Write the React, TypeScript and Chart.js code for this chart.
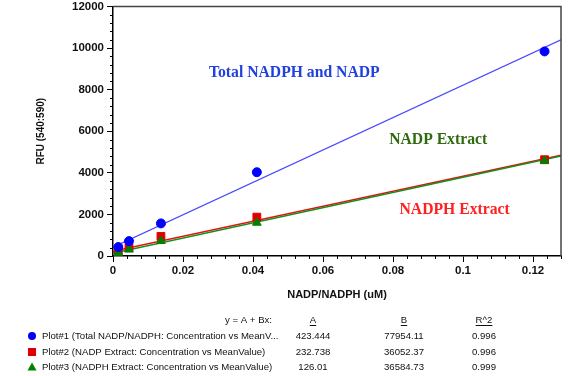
import React, { useEffect, useRef } from "react";
import { Chart, registerables } from "chart.js";

Chart.register(...registerables);

// ---- data ----
const concentrations = [0.00152, 0.00457, 0.0137, 0.0411, 0.1233];
const totalValues = [430, 716, 1567, 4030, 9840];
const nadpValues = [235, 400, 940, 1870, 4630];
const nadphValues = [150, 310, 720, 1600, 4580];

const fitA = [423.444, 232.738, 126.01];
const fitB = [77954.11, 36052.37, 36584.73];
const fitR2 = ["0.996", "0.996", "0.999"];
const fitAText = ["423.444", "232.738", "126.01"];
const fitBText = ["77954.11", "36052.37", "36584.73"];
const plotNames = [
  "Plot#1 (Total NADP/NADPH: Concentration vs MeanV...",
  "Plot#2 (NADP Extract: Concentration vs MeanValue)",
  "Plot#3 (NADPH Extract: Concentration vs MeanValue)",
];
const annotationLabels = ["Total NADPH and NADP", "NADP Extract", "NADPH Extract"];
const annotationPos = [
  { x: 0.0518, y: 8800 },
  { x: 0.0929, y: 5600 },
  { x: 0.0976, y: 2200 },
];

const xMajorTicks = [0, 0.02, 0.04, 0.06, 0.08, 0.1, 0.12];
const xMinorStep = 0.004;
const yMajorStep = 2000;
const yMinorStep = 400;
const xMax = 0.128;
const yMax = 12000;

const seriesColors = ["#0000ff", "#e00000", "#008000"];
const lineColors = ["#4a4aff", "#e81010", "#12901a"];
const textColors = ["#2040e0", "#2e6b10", "#ff2020"];

export default function App() {
  const ref = useRef<HTMLCanvasElement | null>(null);

  useEffect(() => {
    if (!ref.current) return;
    const pts = (vals: number[]) => concentrations.map((c, i) => ({ x: c, y: vals[i] }));
    const fitLine = (k: number) => [
      { x: 0, y: fitA[k] },
      { x: xMax, y: fitA[k] + fitB[k] * xMax },
    ];

    const extras = {
      id: "extras",
      afterDraw(chart: any) {
        const ctx = chart.ctx as CanvasRenderingContext2D;
        const xs = chart.scales.x;
        const ys = chart.scales.y;
        const ca = chart.chartArea;
        ctx.save();
        // frame top/right
        ctx.strokeStyle = "#444";
        ctx.lineWidth = 1.5;
        ctx.beginPath();
        ctx.moveTo(ca.left, ca.top);
        ctx.lineTo(ca.right, ca.top);
        ctx.lineTo(ca.right, ca.bottom);
        ctx.stroke();
        // minor ticks
        ctx.strokeStyle = "#000";
        ctx.lineWidth = 1;
        ctx.beginPath();
        for (let v = 0; v <= yMax + 1e-9; v += yMinorStep) {
          if (Math.abs(v % yMajorStep) < 1e-6) continue;
          const py = Math.round(ys.getPixelForValue(v)) + 0.5;
          ctx.moveTo(ca.left - 3, py);
          ctx.lineTo(ca.left, py);
        }
        for (let i = 0; i * xMinorStep <= xMax + 1e-9; i++) {
          if (i % 5 === 0) continue;
          const px = Math.round(xs.getPixelForValue(i * xMinorStep)) + 0.5;
          ctx.moveTo(px, ca.bottom);
          ctx.lineTo(px, ca.bottom + 3);
        }
        ctx.stroke();
        // annotations
        ctx.font = "bold 15.7px 'Liberation Serif', 'Times New Roman', serif";
        ctx.textAlign = "center";
        ctx.textBaseline = "middle";
        annotationLabels.forEach((t, i) => {
          ctx.fillStyle = textColors[i];
          ctx.fillText(t, xs.getPixelForValue(annotationPos[i].x), ys.getPixelForValue(annotationPos[i].y));
        });
        // fit table
        ctx.font = "9.6px 'Liberation Sans', Arial, sans-serif";
        ctx.fillStyle = "#111";
        ctx.textBaseline = "middle";
        const rowY = [320, 336, 352, 367];
        ctx.textAlign = "right";
        ctx.fillText("y = A + Bx:", 272, rowY[0]);
        ctx.textAlign = "center";
        const colX = [313, 404, 484];
        const heads = ["A", "B", "R^2"];
        heads.forEach((h, i) => {
          ctx.fillText(h, colX[i], rowY[0]);
          const w = ctx.measureText(h).width;
          ctx.fillRect(colX[i] - w / 2, rowY[0] + 5, w, 1);
        });
        for (let r = 0; r < 3; r++) {
          const y = rowY[r + 1];
          ctx.textAlign = "left";
          ctx.fillStyle = "#111";
          ctx.fillText(plotNames[r], 42, y);
          ctx.textAlign = "center";
          ctx.fillText(fitAText[r], colX[0], y);
          ctx.fillText(fitBText[r], colX[1], y);
          ctx.fillText(fitR2[r], colX[2], y);
          ctx.fillStyle = seriesColors[r];
          ctx.beginPath();
          if (r === 0) {
            ctx.arc(32, y, 4, 0, Math.PI * 2);
          } else if (r === 1) {
            ctx.rect(28, y - 4, 8, 8);
          } else {
            ctx.moveTo(32, y - 4.5);
            ctx.lineTo(36.5, y + 3.5);
            ctx.lineTo(27.5, y + 3.5);
            ctx.closePath();
          }
          ctx.fill();
        }
        ctx.restore();
      },
    };

    const chart = new Chart(ref.current, {
      type: "scatter",
      data: {
        datasets: [
          { type: "line", data: fitLine(0), borderColor: lineColors[0], borderWidth: 1.3, pointRadius: 0, order: 5 },
          { type: "line", data: fitLine(1), borderColor: lineColors[1], borderWidth: 1.5, pointRadius: 0, order: 5 },
          { type: "line", data: fitLine(2), borderColor: lineColors[2], borderWidth: 1.5, pointRadius: 0, order: 4 },
          { data: pts(totalValues), backgroundColor: seriesColors[0], borderColor: seriesColors[0], pointStyle: "circle", pointRadius: 4.5, order: 1 },
          { data: pts(nadpValues), backgroundColor: seriesColors[1], borderColor: seriesColors[1], pointStyle: "rect", pointRadius: 5.5, order: 2 },
          { data: pts(nadphValues), backgroundColor: seriesColors[2], borderColor: seriesColors[2], pointStyle: "triangle", pointRadius: 5, order: 1 },
        ],
      } as any,
      options: {
        animation: false,
        responsive: false,
        layout: { padding: { left: 35, right: 15, top: 6, bottom: 70 } },
        plugins: { legend: { display: false }, tooltip: { enabled: false } },
        scales: {
          x: {
            type: "linear",
            min: 0,
            max: xMax,
            afterBuildTicks: (s: any) => {
              s.ticks = xMajorTicks.map((v) => ({ value: v }));
            },
            afterFit: (s: any) => {
              s.height = 50;
            },
            ticks: {
              color: "#111",
              font: { family: "'Liberation Sans', Arial, sans-serif", size: 11.5, weight: "bold" },
              padding: 2,
              maxRotation: 0,
              callback: (v: any) => String(Number(v)),
            },
            grid: { drawOnChartArea: false, tickLength: 6, color: "#000" },
            border: { color: "#000", width: 1.5 },
            title: {
              display: true,
              text: "NADP/NADPH (uM)",
              color: "#111",
              font: { family: "'Liberation Sans', Arial, sans-serif", size: 11, weight: "bold" },
              padding: { top: 4, bottom: 4 },
            },
          },
          y: {
            type: "linear",
            min: 0,
            max: yMax,
            afterFit: (s: any) => {
              s.width = 78;
              s.paddingTop = 0;
              s.paddingBottom = 0;
            },
            ticks: {
              stepSize: yMajorStep,
              color: "#111",
              font: { family: "'Liberation Sans', Arial, sans-serif", size: 11.5, weight: "bold" },
              padding: 3,
              callback: (v: any) => String(Number(v)),
            },
            grid: { drawOnChartArea: false, tickLength: 6, color: "#000" },
            border: { color: "#000", width: 1.5 },
            title: {
              display: true,
              text: "RFU (540:590)",
              color: "#111",
              font: { family: "'Liberation Sans', Arial, sans-serif", size: 10, weight: "bold" },
              padding: { top: 0, bottom: 0 },
            },
          },
        },
      } as any,
      plugins: [extras],
    });
    return () => chart.destroy();
  }, []);

  return (
    <div style={{ position: "fixed", left: 0, top: 0, width: 576, height: 376, background: "#fff" }}>
      <canvas ref={ref} width={576} height={376} style={{ width: 576, height: 376 }} />
    </div>
  );
}
